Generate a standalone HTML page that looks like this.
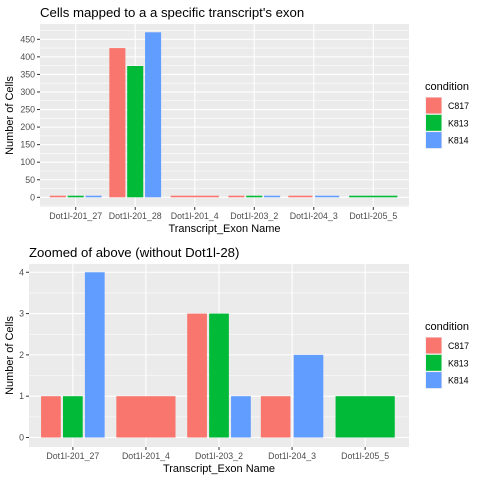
<!DOCTYPE html>
<html><head><meta charset="utf-8"><style>body{margin:0;background:#fff}svg{display:block}text{font-family:"Liberation Sans",sans-serif}</style></head>
<body>
<svg id="s" width="480" height="480" xmlns="http://www.w3.org/2000/svg"></svg>
<script>
const series = ["C817","K813","K814"];
const colors = ["#F8766D","#00BA38","#619CFF"];
const topCats = ["Dot1l-201_27","Dot1l-201_28","Dot1l-201_4","Dot1l-203_2","Dot1l-204_3","Dot1l-205_5"];
const topC817 = [1,425,1,1,1,null];
const topK813 = [1,374,null,1,null,1];
const topK814 = [4,470,null,1,1,null];
const topTicks = [0,50,100,150,200,250,300,350,400,450];
const botCats = ["Dot1l-201_27","Dot1l-201_4","Dot1l-203_2","Dot1l-204_3","Dot1l-205_5"];
const botC817 = [1,1,3,1,null];
const botK813 = [1,null,3,null,1];
const botK814 = [4,null,1,2,null];
const botTicks = [0,1,2,3,4];

const svg=document.getElementById('s');const NS="http://www.w3.org/2000/svg";
function mk(t,a,p){const e=document.createElementNS(NS,t);for(const k in a)e.setAttribute(k,a[k]);(p||svg).appendChild(e);return e;}
function panel(oy,L,title,titleX,cats,vals,ticks,ymin,ymax,name){
  const g=mk('g',{});
  
  
  const R=409,T=oy+24,B=oy+207;
  const y=v=>B-(v-ymin)/(ymax-ymin)*(B-T);
  const n=cats.length,step=(R-L)/(n-1+1.2);
  const x=i=>L+step*(i+0.6);
  const bg=mk('rect',{x:L,y:T,width:R-L,height:B-T,fill:'#EBEBEB'},g);
  
  
  const dt=ticks[1]-ticks[0];
  for(let i=0;i<ticks.length;i++){const m=ticks[i]+dt/2;if(m<ymax)mk('line',{x1:L,x2:R,y1:y(m),y2:y(m),stroke:'#fff','stroke-width':0.55},g);}
  if(ticks[0]-dt/2>ymin)mk('line',{x1:L,x2:R,y1:y(ticks[0]-dt/2),y2:y(ticks[0]-dt/2),stroke:'#fff','stroke-width':0.55},g);
  ticks.forEach(t=>{mk('line',{x1:L,x2:R,y1:y(t),y2:y(t),stroke:'#fff','stroke-width':1.1},g);
    mk('line',{x1:L-3,x2:L,y1:y(t),y2:y(t),stroke:'#333','stroke-width':1},g);
    const tx=mk('text',{x:L-5,y:y(t)+3,'text-anchor':'end','font-size':8.8,fill:'#4D4D4D'},g);tx.textContent=t;
    
    });
  cats.forEach((c,i)=>{mk('line',{x1:x(i),x2:x(i),y1:T,y2:B,stroke:'#fff','stroke-width':1.1},g);
    mk('line',{x1:x(i),x2:x(i),y1:B,y2:B+3,stroke:'#333','stroke-width':1},g);
    const tx=mk('text',{x:x(i),y:B+12,'text-anchor':'middle','font-size':8.8,fill:'#4D4D4D'},g);tx.textContent=c;
    
    
    const present=[];vals.forEach((s,k)=>{if(s[i]!=null)present.push(k);});
    const w=step*0.9,bw=w/present.length;
    present.forEach((k,j)=>{const x0=x(i)-w/2+bw*j+bw*0.05;const v=vals[k][i];
      const h=Math.max(1.6,y(0)-y(v));
      const r=mk('rect',{x:x0,y:y(0)-h,width:bw*0.9,height:h,fill:colors[k]},g);
      
      });
  });
  const tt=mk('text',{x:titleX,y:oy+17,'font-size':13.2,fill:'#000'},g);tt.textContent=title;
  
  
  const xt=mk('text',{x:(L+R)/2,y:oy+232,'text-anchor':'middle','font-size':11,fill:'#000'},g);xt.textContent='Transcript_Exon Name';
  
  
  const yt=mk('text',{x:0,y:0,'text-anchor':'middle','font-size':11,fill:'#000',transform:`translate(13,${(T+B)/2}) rotate(-90)`},g);yt.textContent='Number of Cells';
  
  
  const lt=mk('text',{x:425,y:oy+90,'font-size':11,fill:'#000'},g);lt.textContent='condition';
  
  
  series.forEach((s,k)=>{const yy=oy+97+k*17.3;
    const lg=mk('g',{},g);
    
    
    mk('rect',{x:425,y:yy,width:17.3,height:17.3,fill:'#F2F2F2'},lg);
    mk('rect',{x:426,y:yy+0.5,width:15.5,height:16,fill:colors[k]},lg);
    const lx=mk('text',{x:448,y:yy+12,'font-size':8.8,fill:'#000'},lg);lx.textContent=s;});
}
panel(0,40,"Cells mapped to a a specific transcript's exon",40,topCats,[topC817,topK813,topK814],topTicks,-27.6,493.6,'top-chart');
panel(240,29,"Zoomed of above (without Dot1l-28)",29,botCats,[botC817,botK813,botK814],botTicks,-0.23,4.2,'bottom-chart');
</script>
</body></html>
